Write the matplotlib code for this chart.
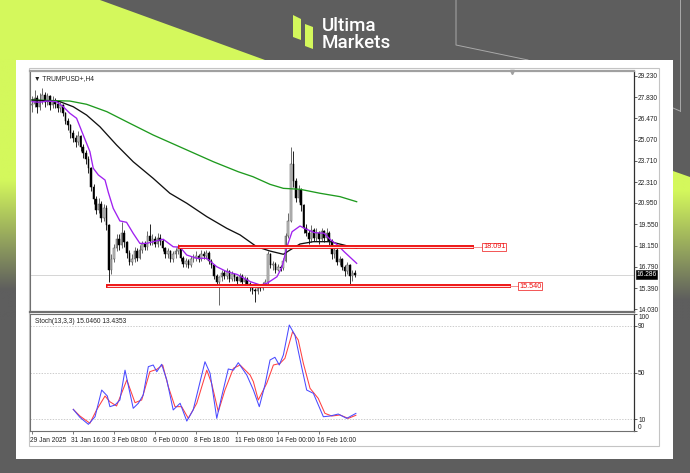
import matplotlib
matplotlib.use('Agg')
import matplotlib.pyplot as plt
import numpy as np
from matplotlib.patches import Polygon, Rectangle

# ---------------- data ----------------
opens = [27.3, 27.4, 27.8, 27.2, 27.6, 28.0, 27.5, 27.9, 27.3, 27.6,
         27.4, 27.1, 27.3, 26.8, 26.3, 26.0, 25.5, 25.2, 24.9, 25.3,
         24.6, 24.2, 23.8, 23.2, 22.0, 21.2, 20.5, 20.9, 20.0, 20.6,
         19.5, 16.6, 17.3, 18.0, 18.6, 18.2, 19.0, 18.4, 17.7, 17.1,
         17.3, 17.8, 17.4, 17.9, 18.3, 18.1, 18.8, 18.5, 18.6, 18.3,
         18.7, 18.5, 18.0, 17.6, 17.8, 17.3, 17.6, 17.8, 18.1, 17.4,
         17.0, 17.2, 16.9, 17.3, 17.4, 17.5, 17.3, 17.6, 17.5, 17.7,
         17.2, 16.9, 16.2, 15.8, 16.1, 16.4, 16.2, 16.5, 16.0, 16.3,
         16.1, 15.9, 16.2, 15.8, 16.0, 15.7, 15.5, 15.3, 15.2, 15.5,
         15.4, 15.6, 15.8, 17.6, 16.9, 17.0, 16.6, 16.8, 16.7, 17.2,
         18.8, 19.8, 23.5, 22.4, 21.3, 21.8, 20.8, 19.3, 19.0, 18.6,
         19.2, 18.7, 19.0, 18.6, 19.1, 18.7, 19.0, 18.5, 17.6, 17.9,
         17.1, 17.3, 16.8, 16.5, 16.9, 16.2, 16.4]
closes = [27.4, 27.8, 27.2, 27.6, 28.0, 27.5, 27.9, 27.3, 27.6, 27.4,
          27.1, 27.3, 26.8, 26.3, 26.0, 25.5, 25.2, 24.9, 25.3, 24.6,
          24.2, 23.8, 23.2, 22.0, 21.2, 20.5, 20.9, 20.0, 20.6, 19.5,
          16.6, 17.3, 18.0, 18.6, 18.2, 19.0, 18.4, 17.7, 17.1, 17.3,
          17.8, 17.4, 17.9, 18.3, 18.1, 18.8, 18.5, 18.6, 18.3, 18.7,
          18.5, 18.0, 17.6, 17.8, 17.3, 17.6, 17.8, 18.1, 17.4, 17.0,
          17.2, 16.9, 17.3, 17.4, 17.5, 17.3, 17.6, 17.5, 17.7, 17.2,
          16.9, 16.2, 15.8, 16.1, 16.4, 16.2, 16.5, 16.0, 16.3, 16.1,
          15.9, 16.2, 15.8, 16.0, 15.7, 15.5, 15.3, 15.2, 15.5, 15.4,
          15.6, 15.8, 17.6, 16.9, 17.0, 16.6, 16.8, 16.7, 17.2, 18.8,
          19.8, 23.5, 22.4, 21.3, 21.8, 20.8, 19.3, 19.0, 18.6, 19.2,
          18.7, 19.0, 18.6, 19.1, 18.7, 19.0, 18.5, 17.6, 17.9, 17.1,
          17.3, 16.8, 16.5, 16.9, 16.2, 16.4, 16.286]
highs = [27.9, 28.3, 28.0, 28.1, 28.4, 28.2, 28.1, 28.0, 27.9, 27.8,
         27.6, 27.5, 27.4, 26.9, 26.5, 26.1, 25.7, 25.4, 25.6, 25.4,
         24.8, 24.4, 24.0, 23.3, 22.2, 21.4, 21.3, 21.1, 20.9, 20.8,
         19.6, 17.6, 18.3, 18.9, 18.9, 19.7, 19.2, 18.5, 17.9, 17.6,
         18.1, 18.0, 18.2, 18.5, 18.5, 19.1, 19.6, 18.9, 18.8, 19.0,
         18.9, 18.6, 18.1, 18.0, 17.9, 17.8, 18.0, 18.3, 18.2, 17.5,
         17.4, 17.3, 17.5, 17.6, 17.8, 17.6, 17.9, 17.8, 17.9, 17.8,
         17.3, 17.0, 16.3, 16.2, 16.6, 16.6, 16.7, 16.6, 16.5, 16.4,
         16.2, 16.4, 16.3, 16.2, 16.1, 15.8, 15.6, 15.4, 15.7, 15.6,
         15.8, 16.0, 17.8, 17.7, 17.2, 17.1, 17.0, 16.9, 17.4, 19.0,
         20.3, 24.6, 24.3, 22.6, 22.1, 21.9, 20.9, 19.6, 19.2, 19.5,
         19.3, 19.3, 19.1, 19.3, 19.2, 19.3, 19.1, 18.6, 18.1, 18.0,
         17.5, 17.4, 16.9, 17.1, 17.0, 16.6, 16.6]
lows = [26.9, 27.2, 26.8, 27.0, 27.4, 27.2, 27.3, 27.0, 27.1, 27.1,
        26.9, 26.9, 26.6, 26.1, 25.7, 25.2, 24.9, 24.6, 24.7, 24.3,
        23.9, 23.5, 22.9, 21.7, 20.9, 20.2, 20.3, 19.7, 19.8, 19.2,
        15.8, 16.3, 17.1, 17.8, 17.9, 18.0, 18.1, 17.4, 16.9, 16.9,
        17.1, 17.2, 17.3, 17.7, 17.9, 17.9, 18.2, 18.2, 18.1, 18.1,
        18.2, 17.8, 17.4, 17.4, 17.1, 17.1, 17.4, 17.6, 17.2, 16.8,
        16.8, 16.7, 16.8, 17.1, 17.2, 17.1, 17.2, 17.3, 17.3, 17.0,
        16.7, 16.0, 15.5, 14.3, 15.9, 16.0, 16.0, 15.8, 15.9, 15.9,
        15.7, 15.8, 15.6, 15.6, 15.5, 15.2, 15.0, 14.5, 15.0, 15.2,
        15.3, 15.5, 15.7, 16.7, 16.6, 16.4, 16.5, 16.5, 16.6, 17.1,
        18.7, 19.7, 22.0, 21.0, 21.0, 20.4, 19.0, 18.8, 18.3, 18.4,
        18.5, 18.5, 18.3, 18.5, 18.4, 18.5, 18.2, 17.3, 17.4, 16.9,
        16.9, 16.6, 16.2, 16.3, 15.7, 15.9, 16.1]

ma_fast_idx = [0, 3.1, 5.7, 9.6, 12.2, 14.8, 17.4, 20.0, 22.6, 23.9, 25.9, 28.5,
               29.8, 31.7, 34.3, 36.9, 39.5, 42.1, 44.8, 47.3, 51.2, 55.1, 57.8,
               60.4, 64.3, 68.2, 72.1, 76.0, 80.0, 85.2, 89.1, 91.7, 95.6, 97.6,
               99.5, 101.5, 104.6, 106.3, 110.2, 114.0, 116.6, 119.2, 121.8, 126.7]
ma_fast_val = [27.54, 27.50, 27.58, 27.54, 27.21, 26.78, 26.46, 25.37, 24.29, 23.21,
               22.77, 22.44, 21.63, 20.60, 19.78, 19.69, 18.97, 18.32, 18.32, 18.43,
               18.59, 18.10, 18.07, 17.56, 17.35, 17.35, 16.80, 16.48, 16.30, 15.83,
               15.61, 15.72, 16.15, 16.80, 18.10, 19.08, 19.45, 19.30, 19.02, 18.98,
               18.54, 18.22, 17.78, 17.02]
ma_mid_idx = [0, 10.9, 16.1, 21.3, 26.5, 33.0, 39.5, 47.3, 53.8, 60.4, 68.2, 76.0,
              81.2, 87.7, 92.9, 98.1, 100.7, 104.6, 109.8, 116.3, 121.5, 126.7]
ma_mid_val = [27.65, 27.54, 27.21, 26.67, 25.91, 24.72, 23.63, 22.55, 21.58, 20.93,
              20.06, 19.30, 18.87, 18.10, 17.82, 17.61, 17.89, 18.28, 18.43, 18.43,
              18.22, 18.00]
ma_slow_idx = [0, 14.8, 21.3, 29.2, 38.2, 47.3, 60.4, 70.8, 80.5, 86.2, 92.9, 98.1,
               104.6, 112.4, 120.2, 126.7]
ma_slow_val = [27.65, 27.58, 27.37, 26.89, 26.13, 25.37, 24.40, 23.63, 22.98, 22.66,
               22.16, 21.90, 21.84, 21.58, 21.36, 21.03]

stoch_main_idx = [16.1, 18.7, 22.0, 24.6, 27.2, 29.4, 30.4, 32.4, 34.3, 36.3, 39.5,
                  41.5, 43.4, 45.4, 47.3, 48.7, 50.6, 52.6, 55.1, 57.8, 60.4, 62.9,
                  67.5, 69.5, 72.1, 74.0, 76.6, 78.6, 80.5, 83.8, 86.4, 88.7, 90.9,
                  92.9, 94.8, 96.5, 98.1, 100.4, 102.6, 105.2, 107.2, 109.8, 113.7,
                  116.3, 119.5, 122.8, 126.4]
stoch_main_val = [18.5, 11.7, 5.7, 12.2, 35, 29.9, 20.8, 22.2, 26.5, 52, 19.4,
                  23.7, 30.8, 55, 56.4, 50.7, 57, 43.6, 18, 23.7, 8.5, 18,
                  59.2, 49.3, 10.8, 29.3, 53, 52, 58.4, 47.9, 35, 20.8, 39.3,
                  60.7, 63, 56.4, 65, 90.6, 82, 55, 35, 32.2, 12.2,
                  12.8, 14.5, 10.8, 15.05]
stoch_sig_idx = [16.1, 18.7, 22.6, 25.2, 28.5, 30.4, 33.0, 37.0, 40.2, 42.8, 46.0,
                 48.7, 51.0, 53.2, 55.8, 58.4, 61.0, 64.3, 68.2, 70.1, 72.7, 75.3,
                 78.6, 81.2, 85.1, 86.4, 88.3, 91.6, 94.2, 96.8, 98.7, 101.7, 103.9,
                 105.9, 108.5, 111.7, 114.3, 117.0, 120.2, 123.4, 126.4]
stoch_sig_val = [18.5, 12.8, 6.6, 18, 29.9, 25, 21.4, 43.6, 24.2, 26.5, 50.7,
                 52.7, 56.4, 37.9, 20.8, 20.8, 10.8, 23.7, 52, 40.7, 16.5, 35,
                 53.6, 56.4, 47.9, 42.1, 26.5, 40.7, 56.4, 57.8, 62.1, 84.9, 77.8,
                 57.8, 36.5, 27.9, 15.1, 12.8, 13.7, 10.8, 13.44]

price_ticks = [29.230, 27.830, 26.470, 25.070, 23.710, 22.310, 20.950,
               19.550, 18.150, 16.790, 15.390, 14.030]
stoch_ticks = [100, 90, 50, 10, 0]
date_idx = [0, 16, 32, 48, 64, 80, 96, 112]
date_labels = ['29 Jan 2025', '31 Jan 16:00', '3 Feb 08:00', '6 Feb 00:00',
               '8 Feb 18:00', '11 Feb 08:00', '14 Feb 00:00', '16 Feb 16:00']
level_hi = 18.091
level_lo = 15.540
last_price = 16.286

# ---------------- figure ----------------
W, H = 690, 473
fig = plt.figure(figsize=(6.9, 4.73), dpi=100)
gray = '#5e5e5e'
lime = np.array([212, 248, 92]) / 255.0
gray_rgb = np.array([94, 94, 94]) / 255.0
fig.patch.set_facecolor(gray)

bg = fig.add_axes([0, 0, 1, 1])
bg.set_xlim(0, W); bg.set_ylim(H, 0); bg.axis('off')
bg.add_patch(Polygon([(0, 0), (100, 0), (265, 60), (0, 60)], closed=True,
                     fc=lime, ec='none'))

def grad_img(y0, y1, ys, ye):
    ys_arr = np.linspace(y0, y1, 200)
    t = np.clip((ys_arr - ys) / (ye - ys), 0, 1)[:, None]
    cols = lime[None, :] * (1 - t) + gray_rgb[None, :] * t
    return cols[:, None, :]

bg.imshow(grad_img(60, 320, 180, 290), extent=(0, 16, 320, 60), aspect='auto',
          interpolation='bilinear', zorder=1)
im2 = bg.imshow(grad_img(170, 320, 190, 300), extent=(673, 690, 320, 170),
                aspect='auto', interpolation='bilinear', zorder=1)
clip = Polygon([(673, 171), (690, 177), (690, 320), (673, 320)], closed=True,
               transform=bg.transData)
im2.set_clip_path(clip)
bg.set_xlim(0, W); bg.set_ylim(H, 0)

# thin decorative lines
bg.plot([456, 456, 528], [0, 45, 60], color='#a9a9a9', lw=0.7, zorder=2)
bg.plot([680, 680], [0, 111], color='#a9a9a9', lw=0.7, zorder=2)
bg.plot([673, 680], [108, 111], color='#a9a9a9', lw=0.7, zorder=2)

# logo
bg.add_patch(Polygon([(293, 15), (301, 19), (301, 40), (293, 37)], closed=True,
                     fc=lime, ec='none', zorder=3))
bg.add_patch(Polygon([(305, 24), (313, 27), (313, 49), (305, 46)], closed=True,
                     fc=lime, ec='none', zorder=3))
bg.text(322, 31, 'Ultima', color='white', fontsize=13.5, family='Roboto',
        fontweight='medium', ha='left', va='baseline', zorder=3)
bg.text(322, 48, 'Markets', color='white', fontsize=13.5, family='Roboto',
        fontweight='medium', ha='left', va='baseline', zorder=3)

# white panel
bg.add_patch(Rectangle((16, 60), 657, 399, fc='white', ec='none', zorder=2))
# chart outer frame
bg.add_patch(Rectangle((29, 68), 630, 378, fc='none', ec='#c4c4c4', lw=0.8, zorder=3))

def pos(x0, y0, x1, y1):
    return [x0 / W, 1 - y1 / H, (x1 - x0) / W, (y1 - y0) / H]

FONT = ['Liberation Sans', 'DejaVu Sans']
FS = 4.8
PX = 2.5625  # px per bar
xl = ((30 - 32) / PX, (634 - 32) / PX)

ax = fig.add_axes(pos(30, 71, 634, 312))
ax.set_facecolor('white')
ppu = 15.37
ax.set_ylim(14.03 - (312 - 309.3) / ppu, 29.23 + (75.7 - 71) / ppu)
ax.set_xlim(*xl)

n = len(closes)
xs = np.arange(n)
o = np.array(opens); c = np.array(closes)
hi = np.array(highs); lo = np.array(lows)
up = c >= o
ax.vlines(xs[up], lo[up], hi[up], color='#505050', lw=0.6, zorder=3)
ax.vlines(xs[~up], lo[~up], hi[~up], color='black', lw=0.6, zorder=3)
ax.bar(xs[up], np.maximum(c[up] - o[up], 0.04), bottom=o[up], width=0.62,
       color='#c8c8c8', edgecolor='#505050', linewidth=0.35, zorder=4)
ax.bar(xs[~up], c[~up] - o[~up], bottom=o[~up], width=0.62,
       color='black', edgecolor='black', linewidth=0.35, zorder=4)

ax.plot(ma_slow_idx, ma_slow_val, color='#1e9a1e', lw=0.95, zorder=5)
ax.plot(ma_mid_idx, ma_mid_val, color='#111111', lw=0.95, zorder=5)
ax.plot(ma_fast_idx, ma_fast_val, color='#a020f0', lw=0.95, zorder=5)

# current price line
ax.axhline(last_price, color='#cfcfcf', lw=0.6, zorder=1)

# support / resistance lines
red = '#ee1111'
hi_x = ((178 - 32) / PX, (474 - 32) / PX)
lo_x = ((106 - 32) / PX, (511 - 32) / PX)
for (xa, xb), lvl, lx in [(hi_x, level_hi, (482 - 32) / PX),
                          (lo_x, level_lo, (518 - 32) / PX)]:
    ax.plot([xa, xb], [lvl, lvl], color=red, lw=2.8, solid_capstyle='butt', zorder=6)
    ax.plot([xa + 0.3, xb - 0.3], [lvl, lvl], color='#ffe0e0', lw=0.8,
            solid_capstyle='butt', zorder=7)
    ax.plot([xb, lx], [lvl, lvl], color='#f08080', lw=0.6, zorder=6)
    ax.text(lx + 0.4, lvl, f'{lvl:.3f}', color=red, fontsize=FS + 0.4, family=FONT,
            ha='left', va='center', zorder=8,
            bbox=dict(boxstyle='square,pad=0.12', fc='white', ec=red, lw=0.5))

for sp in ['left', 'top', 'bottom']:
    ax.spines[sp].set_color('#707070'); ax.spines[sp].set_linewidth(0.8)
ax.spines['right'].set_color('#303030'); ax.spines['right'].set_linewidth(0.9)
ax.spines['bottom'].set_linewidth(1.6)
ax.spines['top'].set_color('#a0a0a0'); ax.spines['top'].set_linewidth(1.6)
ax.set_xticks([])
ax.yaxis.tick_right()
ax.set_yticks(price_ticks)
ax.set_yticklabels([f'{t:.3f}' for t in price_ticks], fontsize=FS, family=FONT)
ax.tick_params(axis='y', direction='out', length=2, width=0.5, pad=1, colors='#222222')

ax.text(0.006, 0.985, '\u25BC TRUMPUSD+,H4', transform=ax.transAxes, fontsize=FS,
        family=FONT, ha='left', va='top', color='#222222')
ax.plot([(512 - 32) / PX], [29.45], marker='v', ms=3, color='#a0a0a0', zorder=8,
        clip_on=False)

# last price tag
ax.text(1.004, last_price, f'{last_price:.3f}', transform=ax.get_yaxis_transform(),
        fontsize=FS, family=FONT, ha='left', va='center', color='white', zorder=9,
        bbox=dict(boxstyle='square,pad=0.12', fc='black', ec='black', lw=0.4))

# stochastic
sx = fig.add_axes(pos(30, 314, 634, 431))
sx.set_xlim(*xl)
sx.set_ylim(0, 100)
for lvl in [90, 50, 10]:
    sx.axhline(lvl, color='#b8b8b8', lw=0.5, ls=(0, (2, 2)), zorder=1)
sx.plot(stoch_sig_idx, stoch_sig_val, color='#ff4040', lw=0.75, zorder=3)
sx.plot(stoch_main_idx, stoch_main_val, color='#4a4aff', lw=0.75, zorder=4)
for sp in ['left', 'top', 'bottom']:
    sx.spines[sp].set_color('#707070'); sx.spines[sp].set_linewidth(0.8)
sx.spines['right'].set_color('#303030'); sx.spines['right'].set_linewidth(0.9)
sx.yaxis.tick_right()
sx.set_yticks(stoch_ticks)
sx.set_yticklabels([str(t) for t in stoch_ticks], fontsize=FS, family=FONT)
sx.tick_params(axis='y', direction='out', length=2, width=0.5, pad=1, colors='#222222')
labs = sx.get_yticklabels()
labs[0].set_va('top')
labs[-1].set_va('bottom')
sx.text(0.008, 0.97, 'Stoch(13,3,3) 15.0460 13.4353', transform=sx.transAxes,
        fontsize=FS, family=FONT, ha='left', va='top', color='#222222')
sx.set_xticks(date_idx)
sx.set_xticklabels([])
sx.tick_params(axis='x', direction='out', length=2, width=0.5, colors='#444444')
for i, lab in zip(date_idx, date_labels):
    sx.text(i - 0.6, -5.5, lab, fontsize=FS, family=FONT, ha='left', va='top',
            color='#222222', transform=sx.transData, clip_on=False)

fig.savefig('out.png', dpi=100, facecolor=fig.get_facecolor())
